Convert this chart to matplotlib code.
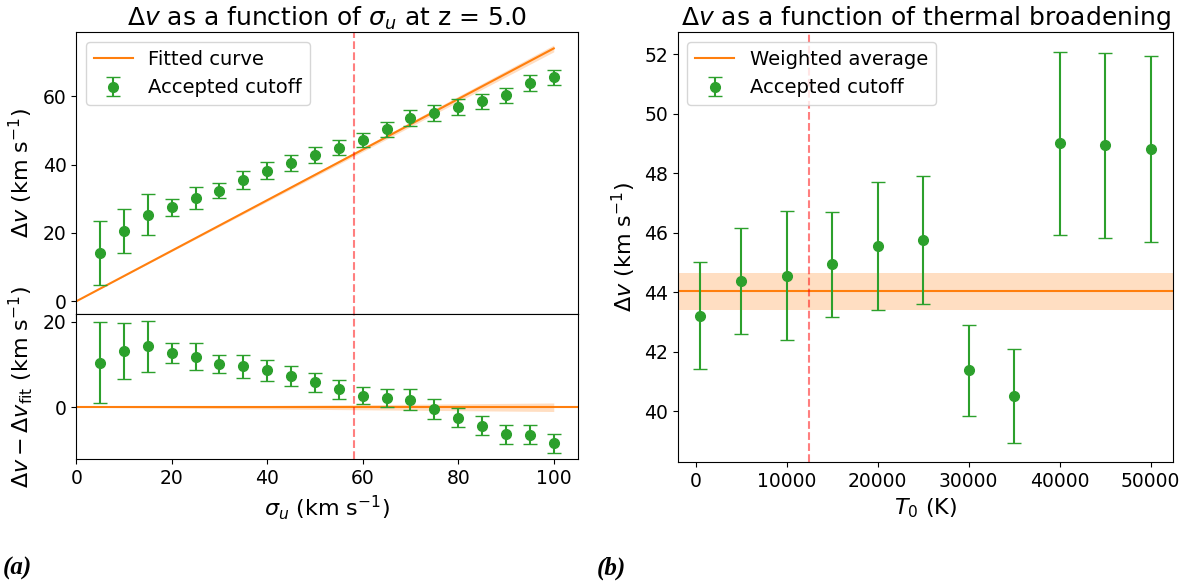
import numpy as np
import matplotlib.pyplot as plt
from matplotlib.ticker import MultipleLocator

# sigma_u scan at z = 5.0
sigma_u = [5, 10, 15, 20, 25, 30, 35, 40, 45, 50, 55, 60, 65, 70, 75, 80, 85, 90, 95, 100]
dv_sigma = [14.1, 20.5, 25.3, 27.5, 30.3, 32.3, 35.5, 38.2, 40.6, 42.8, 44.9, 47.1,
            50.3, 53.6, 55.1, 56.8, 58.6, 60.3, 63.9, 65.6]
dv_sigma_err = [9.4, 6.5, 6.0, 2.4, 3.2, 2.2, 2.7, 2.5, 2.35, 2.25, 2.2, 2.05,
                2.15, 2.4, 2.35, 2.3, 2.2, 2.25, 2.25, 2.2]
fit_slope = 0.74
fit_slope_err = 0.01
sigma_cut = 58.2

# thermal broadening scan
T0 = [500, 5000, 10000, 15000, 20000, 25000, 30000, 35000, 40000, 45000, 50000]
dv_T = [43.2, 44.37, 44.55, 44.93, 45.55, 45.75, 41.37, 40.52, 49.0, 48.93, 48.82]
dv_T_err = [1.8, 1.77, 2.17, 1.77, 2.15, 2.15, 1.53, 1.58, 3.08, 3.1, 3.13]
dv_avg = 44.02
dv_avg_err = 0.62
T_cut = 12500

plt.rcParams['font.size'] = 13.5
plt.rcParams['axes.labelsize'] = 16
plt.rcParams['legend.fontsize'] = 14

fig = plt.figure(figsize=(11.91, 5.85), dpi=100)
ax_top = fig.add_axes([0.064, 0.463, 0.421, 0.482])
ax_res = fig.add_axes([0.064, 0.215, 0.421, 0.248], sharex=ax_top)
ax_T = fig.add_axes([0.569, 0.21, 0.416, 0.735])

x = np.array(sigma_u, dtype=float)
y = np.array(dv_sigma)
yerr = np.array(dv_sigma_err)
xfit = np.linspace(0, 100, 200)

# upper panel: data and linear fit
ax_top.plot(xfit, fit_slope * xfit, color='C1', label='Fitted curve')
ax_top.fill_between(xfit, (fit_slope - fit_slope_err) * xfit, (fit_slope + fit_slope_err) * xfit,
                    color='C1', alpha=0.25, lw=0)
ax_top.errorbar(x, y, yerr=yerr, fmt='o', color='C2', capsize=5, ms=7, label='Accepted cutoff')
ax_top.axvline(sigma_cut, color='r', ls='--', alpha=0.5)
ax_top.set_title(r'$\Delta v$ as a function of $\sigma_u$ at z = 5.0', fontsize=18, pad=4)
ax_top.set_ylabel(r'$\Delta v$ (km s$^{-1}$)')
ax_top.legend(loc='upper left')
plt.setp(ax_top.get_xticklabels(), visible=False)

# lower panel: residuals
resid = y - fit_slope * x
ax_res.axhline(0, color='C1')
ax_res.fill_between(xfit, -fit_slope_err * xfit, fit_slope_err * xfit, color='C1', alpha=0.25, lw=0)
ax_res.errorbar(x, resid, yerr=yerr, fmt='o', color='C2', capsize=5, ms=7)
ax_res.axvline(sigma_cut, color='r', ls='--', alpha=0.5)
ax_res.set_xlim(0, 105)
ax_res.yaxis.set_major_locator(MultipleLocator(20))
ax_res.set_xlabel(r'$\sigma_u$ (km s$^{-1}$)')
ax_res.set_ylabel(r'$\Delta v - \Delta v_{\rm fit}$ (km s$^{-1}$)')
ax_top.yaxis.set_label_coords(-0.082, 0.5)
ax_res.yaxis.set_label_coords(-0.082, 0.5)

# right panel: thermal broadening
ax_T.axhline(dv_avg, color='C1', label='Weighted average')
ax_T.axhspan(dv_avg - dv_avg_err, dv_avg + dv_avg_err, color='C1', alpha=0.25, lw=0)
ax_T.errorbar(T0, dv_T, yerr=dv_T_err, fmt='o', color='C2', capsize=5, ms=7, label='Accepted cutoff')
ax_T.axvline(T_cut, color='r', ls='--', alpha=0.5)
ax_T.set_title(r'$\Delta v$ as a function of thermal broadening', fontsize=18, pad=4)
ax_T.set_xlabel(r'$T_0$ (K)')
ax_T.set_ylabel(r'$\Delta v$ (km s$^{-1}$)')
ax_T.legend(loc='upper left')

fig.text(0.002, 0.018, '(a)', fontsize=18, fontweight='bold', style='italic', family='Liberation Serif')
fig.text(0.501, 0.018, '(b)', fontsize=18, fontweight='bold', style='italic', family='Liberation Serif')

fig.savefig('out.png', dpi=100)
